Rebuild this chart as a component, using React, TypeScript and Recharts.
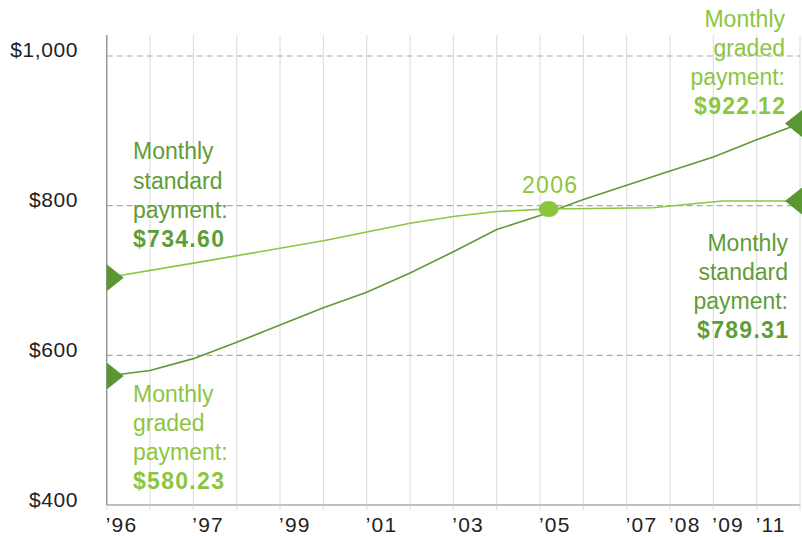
import React from 'react';
import { LineChart, Line, XAxis, YAxis, CartesianGrid, ReferenceLine } from 'recharts';

// ---- data ----
const tickPositions = [0, 1, 2, 3, 4, 5, 6, 7, 8, 9, 10, 11, 12, 13, 14, 15, 16];
const tickLabels = ['’96', '', '’97', '', '’99', '', '’01', '', '’03', '', '’05', '', '’07', '’08', '’09', '’11', ''];
const yTicks = [400, 600, 800, 1000];

const standardX = [0, 2, 4, 5, 6, 7, 8, 9, 10, 10.2, 12.6, 14.2, 16];
const standardV = [703.7, 723.2, 743.0, 753.0, 764.8, 776.4, 785.5, 792.2, 795.1, 795.5, 797.3, 806.2, 806.2];

const gradedX = [0, 1, 2, 3, 4, 5, 6, 7, 8, 9, 10, 11, 12, 13, 14, 15, 16];
const gradedV = [572.4, 579.7, 595.6, 617.5, 640.5, 663.6, 684.3, 710.0, 738.4, 768.1, 786.8, 808.1, 827.3, 846.3, 865.0, 888.0, 909.9];

const crossoverX = 10.2;
const crossoverLabel = '2006';

const standardLines = ['Monthly', 'standard', 'payment:'];
const gradedLines = ['Monthly', 'graded', 'payment:'];
const standardStart = '$734.60';
const standardEnd = '$789.31';
const gradedStart = '$580.23';
const gradedEnd = '$922.12';

const standardData = standardX.map((x, i) => ({ x, v: standardV[i] }));
const gradedData = gradedX.map((x, i) => ({ x, v: gradedV[i] }));

// ---- styles ----
const FONT = '"Liberation Sans", Arial, sans-serif';
const LIGHT = '#8cc63f';
const DARK = '#5f9d37';
const MARKER = '#5a9632';
const LINE_DARK = '#5e9a35';

const fmtY = (v: number) => '$' + v.toLocaleString('en-US');

const makeDot = (lastIndex: number, withCrossover: boolean) => (props: any) => {
  const { cx, cy, index, payload } = props;
  if (index === 0) {
    return (
      <polygon key={`d${index}`} points={`${cx},${cy - 13.5} ${cx + 17},${cy} ${cx},${cy + 13.5}`} fill={MARKER} />
    );
  }
  if (index === lastIndex) {
    return (
      <polygon key={`d${index}`} points={`${cx + 2},${cy - 13.5} ${cx - 15},${cy} ${cx + 2},${cy + 13.5}`} fill={MARKER} />
    );
  }
  if (withCrossover && payload && payload.x === crossoverX) {
    return (
      <g key={`d${index}`}>
        <ellipse cx={cx} cy={cy} rx={10} ry={8} fill={LIGHT} />
        <text x={cx + 1.5} y={cy - 16} textAnchor="middle" fontFamily={FONT} fontSize={23} fill={LIGHT} letterSpacing={1.3}>
          {crossoverLabel}
        </text>
      </g>
    );
  }
  return <g key={`d${index}`} />;
};

const XTick = (props: any) => {
  const { x, y, payload } = props;
  const label = tickLabels[tickPositions.indexOf(payload.value)] || '';
  if (!label) return <g />;
  return (
    <text x={x - 1} y={y + 22} textAnchor="start" fontFamily={FONT} fontSize={21} fill="#222" letterSpacing={1.2}>
      {label}
    </text>
  );
};

const YTick = (props: any) => {
  const { y, payload } = props;
  return (
    <text x={78} y={y + 1.5} textAnchor="end" fontFamily={FONT} fontSize={21} fill="#222" letterSpacing={0.6}>
      {fmtY(payload.value)}
    </text>
  );
};

const Block = ({ x, y0, anchor, lines, value, color }: any) => (
  <g>
    {lines.map((t: string, i: number) => (
      <text key={i} x={x} y={y0 + i * 29.2} textAnchor={anchor} fontFamily={FONT} fontSize={23} fill={color}>
        {t}
      </text>
    ))}
    <text x={anchor === 'end' ? x + 1.3 : x} y={y0 + 3 * 29.2} textAnchor={anchor} fontFamily={FONT} fontSize={23} fontWeight="bold" fill={color} letterSpacing={1.3}>
      {value}
    </text>
  </g>
);

export default function App() {
  return (
    <div style={{ position: 'absolute', left: 0, top: 0, width: 802, height: 537, background: '#fff' }}>
      <LineChart width={802} height={537} margin={{ top: 35, right: 2, bottom: 2, left: 0 }}>
        <CartesianGrid horizontal={false} stroke="#e0e0e0" strokeWidth={1.2} />
        <XAxis
          type="number"
          dataKey="x"
          domain={[0, 16]}
          ticks={tickPositions}
          interval={0}
          height={30}
          tickSize={5}
          tickMargin={0}
          tickLine={{ stroke: '#e0e0e0', strokeWidth: 1.2 }}
          axisLine={{ stroke: '#aaaaaa', strokeWidth: 1.5 }}
          tick={<XTick />}
        />
        <YAxis
          type="number"
          domain={[400, 1028.06]}
          allowDataOverflow
          ticks={yTicks}
          width={106.7}
          tickLine={false}
          axisLine={{ stroke: '#999999', strokeWidth: 1.5 }}
          tick={<YTick />}
        />
        {yTicks.slice(1).map((v) => (
          <ReferenceLine key={v} y={v} stroke="#aaaaaa" strokeWidth={1.2} strokeDasharray="6 4" />
        ))}
        <Line
          data={gradedData}
          dataKey="v"
          type="linear"
          stroke={LINE_DARK}
          strokeWidth={1.6}
          dot={makeDot(gradedData.length - 1, false)}
          activeDot={false}
          isAnimationActive={false}
        />
        <Line
          data={standardData}
          dataKey="v"
          type="linear"
          stroke={LIGHT}
          strokeWidth={1.6}
          dot={makeDot(standardData.length - 1, true)}
          activeDot={false}
          isAnimationActive={false}
        />
      </LineChart>
      <svg width={802} height={537} style={{ position: 'absolute', left: 0, top: 0, pointerEvents: 'none' }}>
        <Block x={133} y0={159.3} anchor="start" lines={standardLines} value={standardStart} color={DARK} />
        <Block x={133} y0={401.7} anchor="start" lines={gradedLines} value={gradedStart} color={LIGHT} />
        <Block x={785} y0={26.7} anchor="end" lines={gradedLines} value={gradedEnd} color={LIGHT} />
        <Block x={788} y0={250.7} anchor="end" lines={standardLines} value={standardEnd} color={DARK} />
      </svg>
    </div>
  );
}
